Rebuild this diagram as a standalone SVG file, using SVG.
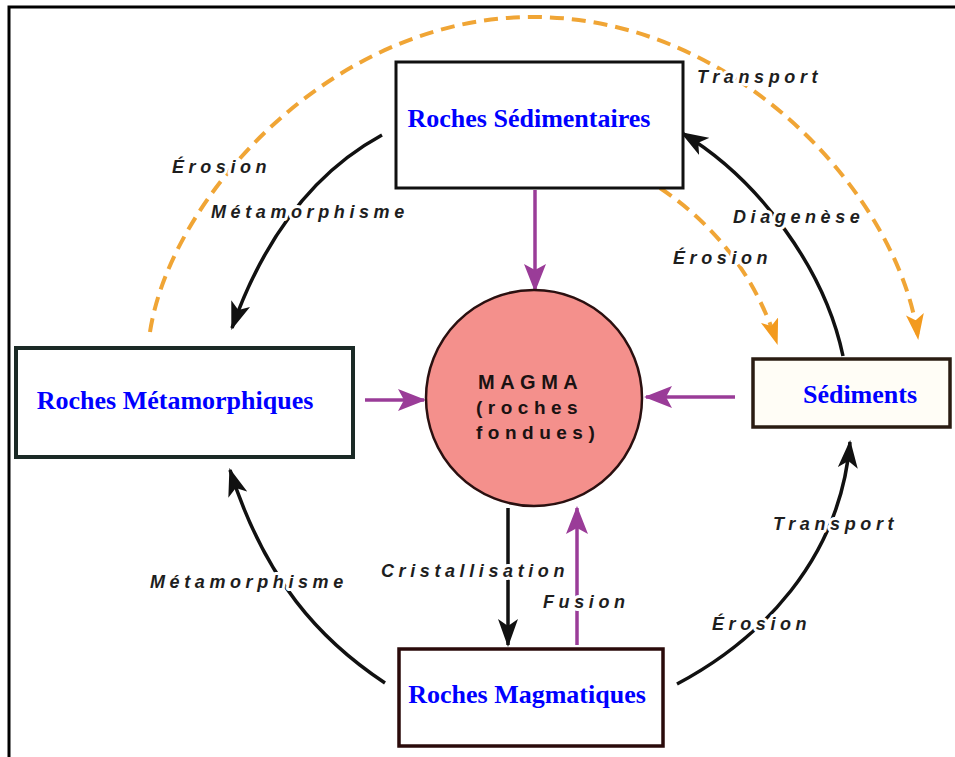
<svg xmlns="http://www.w3.org/2000/svg" width="955" height="757" viewBox="0 0 955 757">
  <style>
    .box { fill: #ffffff; }
    .title { font-family: "Liberation Serif", "Times New Roman", serif; font-weight: bold; font-size: 26px; fill: #0000ff; text-anchor: middle; }
    .lbl { font-family: "Liberation Sans", Arial, sans-serif; font-weight: bold; font-style: italic; font-size: 18px; letter-spacing: 4.6px; fill: #1e1e1e; stroke: #ffffff; stroke-width: 6px; stroke-linejoin: round; paint-order: stroke; }
    .magma { font-family: "Liberation Sans", Arial, sans-serif; font-weight: bold; font-size: 19px; letter-spacing: 5.5px; fill: #1a1212; }
    .blk { fill: none; stroke: #111111; stroke-width: 3.5; marker-end: url(#ah-black); }
    .org { fill: none; stroke: #f0a535; stroke-width: 4; stroke-dasharray: 14 8; marker-end: url(#ah-orange); }
    .pur { fill: none; stroke: #9a3c98; stroke-width: 3.5; marker-end: url(#ah-purple); }
  </style>
  <defs>
    <marker id="ah-black" viewBox="0 0 28 20" refX="26" refY="10" markerWidth="28" markerHeight="20" markerUnits="userSpaceOnUse" orient="auto">
      <path d="M0,0 L28,10 L0,20 L7,10 z" fill="#111111"/>
    </marker>
    <marker id="ah-orange" viewBox="0 0 26 18" refX="24" refY="9" markerWidth="26" markerHeight="18" markerUnits="userSpaceOnUse" orient="auto">
      <path d="M0,0 L26,9 L0,18 L6,9 z" fill="#f39a1e"/>
    </marker>
    <marker id="ah-purple" viewBox="0 0 28 22" refX="26" refY="11" markerWidth="28" markerHeight="22" markerUnits="userSpaceOnUse" orient="auto">
      <path d="M0,0 L28,11 L0,22 L6,11 z" fill="#9a3c98"/>
    </marker>
  </defs>

  <rect width="955" height="757" fill="#ffffff"/>
  <!-- frame -->
  <path d="M9,757 L9,7 L955,7" fill="none" stroke="#000000" stroke-width="3"/>

  <g id="connectors">
    <!-- orange dashed transport / erosion -->
    <path class="org" d="M150,332 C170,200 330,17 533,17 C740,17 900,200 918,338"/>
    <path class="org" d="M660,188 Q745,245 777,343"/>
    <!-- black curved -->
    <path class="blk" d="M382,135 Q281,190 232,328"/>
    <path class="blk" d="M385,683 C320,640 265,580 230,470"/>
    <path class="blk" d="M677,684 C760,640 840,560 850,442"/>
    <path class="blk" d="M843,356 C825,270 760,180 682,133"/>
    <path class="blk" d="M508,508 L508,645"/>
    <!-- purple -->
    <path class="pur" d="M535,190 L535,290"/>
    <path class="pur" d="M365,400 L424,400"/>
    <path class="pur" d="M735,397 L646,397"/>
    <path class="pur" d="M577,645 L577,508"/>
  </g>

  <g id="labels">
    <text class="lbl" x="697" y="83">Transport</text>
    <text class="lbl" x="172" y="173">Érosion</text>
    <text class="lbl" x="211" y="218">Métamorphisme</text>
    <text class="lbl" x="733" y="223">Diagenèse</text>
    <text class="lbl" x="673" y="264">Érosion</text>
    <text class="lbl" x="773" y="530">Transport</text>
    <text class="lbl" x="150" y="588">Métamorphisme</text>
    <text class="lbl" x="381" y="577">Cristallisation</text>
    <text class="lbl" x="543" y="608">Fusion</text>
    <text class="lbl" x="712" y="630">Érosion</text>
  </g>

  <g id="node-sedimentaires">
    <rect class="box" x="396" y="62" width="287" height="126" stroke="#111111" stroke-width="3"/>
    <text class="title" x="529" y="127">Roches Sédimentaires</text>
  </g>

  <g id="node-metamorphiques">
    <rect class="box" x="16" y="348" width="337" height="109" stroke="#1b2a26" stroke-width="4"/>
    <text class="title" x="175" y="409">Roches Métamorphiques</text>
  </g>

  <g id="node-sediments">
    <rect x="753" y="359" width="197" height="68" fill="#fffdf6" stroke="#2a1c12" stroke-width="3.5"/>
    <text class="title" x="860" y="403">Sédiments</text>
  </g>

  <g id="node-magmatiques">
    <rect class="box" x="399" y="649" width="264" height="97" stroke="#2a0a0a" stroke-width="3.5"/>
    <text class="title" x="527" y="703">Roches Magmatiques</text>
  </g>

  <g id="node-magma">
    <circle cx="534" cy="398" r="108" fill="#f4908c" stroke="#2a1010" stroke-width="2.5"/>
    <text class="magma" x="478" y="389" style="font-size:20px">MAGMA</text>
    <text class="magma" x="476" y="414">(roches</text>
    <text class="magma" x="476" y="439">fondues)</text>
  </g>
</svg>
